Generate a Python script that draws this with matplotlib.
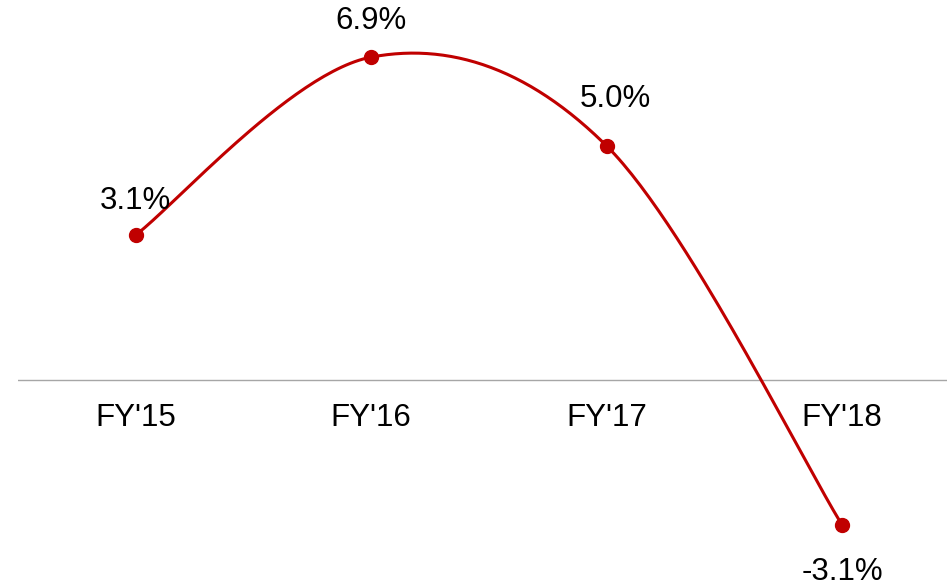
import numpy as np
import matplotlib.pyplot as plt

plt.rcParams['font.family'] = ['Liberation Sans', 'DejaVu Sans']

years = ["FY'15", "FY'16", "FY'17", "FY'18"]
growth = [3.1, 6.9, 5.0, -3.1]
labels = ["3.1%", "6.9%", "5.0%", "-3.1%"]
# label offsets in pixels (dx, dy) from each point
label_offsets = [(0, 34), (0, 36), (9, 47), (0, -47)]

red = "#C00000"


def smooth_curve(x, y, steps=60):
    """Cubic Bezier smoothing through the points (spreadsheet style)."""
    pts = np.column_stack([x, y]).astype(float)
    padded = np.vstack([pts[0], pts, pts[-1]])
    out = []
    t = np.linspace(0, 1, steps)[:, None]
    for i in range(len(pts) - 1):
        p0, p3 = pts[i], pts[i + 1]
        c1 = p0 + (padded[i + 2] - padded[i]) / 6
        c2 = p3 - (padded[i + 3] - padded[i + 1]) / 6
        seg = ((1 - t) ** 3) * p0 + 3 * ((1 - t) ** 2) * t * c1 \
            + 3 * (1 - t) * t ** 2 * c2 + t ** 3 * p3
        out.append(seg if i == 0 else seg[1:])
    out = np.vstack(out)
    return out[:, 0], out[:, 1]


fig = plt.figure(figsize=(9.47, 5.86), dpi=100)
ax = fig.add_axes([18 / 947, 0, 1 - 18 / 947, 1])

xpos = np.arange(len(years))
sx, sy = smooth_curve(xpos, growth)
ax.plot(sx, sy, color=red, linewidth=2.2, solid_capstyle='round', zorder=3)
ax.plot(xpos, growth, 'o', color=red, markersize=10, zorder=4)

ax.axhline(0, color="#A6A6A6", linewidth=1, zorder=1)

for x, y, lab, (dx, dy) in zip(xpos, growth, labels, label_offsets):
    ax.annotate(lab, (x, y), xytext=(dx * 0.72, dy * 0.72), textcoords='offset points',
                ha='center', va='center', fontsize=22.5, color='black')

for x, yr in zip(xpos, years):
    ax.annotate(yr, (x, 0), xytext=(0, -38 * 0.72), textcoords='offset points',
                ha='center', va='center', fontsize=22.5, color='black')

ax.set_xlim(-0.5, 3.445)
ax.set_ylim(-4.40, 8.12)
ax.axis('off')

fig.savefig("out.png", dpi=100)
